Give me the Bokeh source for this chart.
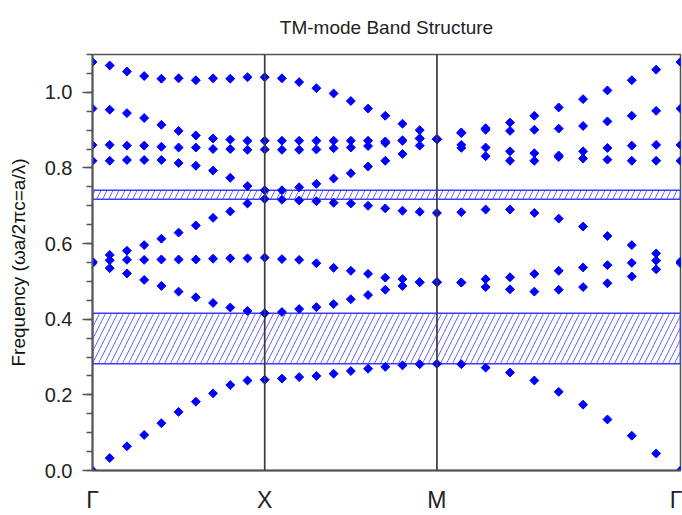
import numpy as np
from bokeh.plotting import figure
from bokeh.models import (Range1d, SingleIntervalTicker, FixedTicker, NumeralTickFormatter,
                          Span, Title)
from bokeh.embed import file_html
from bokeh.resources import INLINE

# High-symmetry points of the k-path (Gamma -> X -> M -> Gamma), in units of 2*pi/a
k_nodes = [0.0, 0.5, 1.0, 1.7071]
k_labels = ["Γ", "X", "M", "Γ"]
steps_per_segment = 10

# TM band frequencies (omega a / 2 pi c), 31 k-samples along the path
band1 = [0.000, 0.033, 0.064, 0.094, 0.125, 0.155, 0.182, 0.204, 0.226, 0.238, 0.240,
         0.243, 0.247, 0.250, 0.256, 0.263, 0.269, 0.274, 0.278, 0.281, 0.282,
         0.281, 0.272, 0.259, 0.238, 0.208, 0.174, 0.135, 0.092, 0.045, 0.000]
band2 = [0.548, 0.535, 0.521, 0.504, 0.488, 0.473, 0.458, 0.443, 0.431, 0.422, 0.416,
         0.419, 0.427, 0.432, 0.440, 0.453, 0.464, 0.478, 0.488, 0.498, 0.498,
         0.497, 0.485, 0.479, 0.473, 0.478, 0.485, 0.495, 0.513, 0.532, 0.548]
band3 = [0.552, 0.556, 0.557, 0.557, 0.558, 0.558, 0.558, 0.560, 0.561, 0.561, 0.563,
         0.559, 0.557, 0.548, 0.536, 0.528, 0.520, 0.510, 0.506, 0.498, 0.498,
         0.497, 0.506, 0.511, 0.520, 0.528, 0.537, 0.543, 0.549, 0.555, 0.552]
band4 = [0.552, 0.570, 0.581, 0.596, 0.613, 0.629, 0.648, 0.668, 0.685, 0.706, 0.718,
         0.716, 0.714, 0.712, 0.708, 0.706, 0.700, 0.693, 0.687, 0.684, 0.681,
         0.683, 0.690, 0.690, 0.681, 0.666, 0.645, 0.620, 0.596, 0.574, 0.552]
band5 = [0.819, 0.819, 0.821, 0.821, 0.821, 0.813, 0.806, 0.793, 0.774, 0.752, 0.741,
         0.741, 0.749, 0.758, 0.772, 0.786, 0.804, 0.819, 0.837, 0.859, 0.876,
         0.853, 0.831, 0.819, 0.819, 0.829, 0.825, 0.822, 0.819, 0.819, 0.819]
band6 = [0.861, 0.861, 0.859, 0.859, 0.856, 0.854, 0.854, 0.850, 0.850, 0.848, 0.849,
         0.848, 0.848, 0.849, 0.852, 0.854, 0.858, 0.866, 0.872, 0.878, 0.876,
         0.861, 0.854, 0.844, 0.839, 0.833, 0.844, 0.853, 0.859, 0.861, 0.861]
band7 = [0.957, 0.954, 0.945, 0.932, 0.914, 0.898, 0.886, 0.878, 0.875, 0.872, 0.872,
         0.872, 0.872, 0.872, 0.872, 0.872, 0.872, 0.870, 0.873, 0.878, 0.876,
         0.892, 0.901, 0.898, 0.901, 0.904, 0.911, 0.923, 0.938, 0.951, 0.957]
band8 = [1.080, 1.071, 1.055, 1.043, 1.036, 1.037, 1.032, 1.037, 1.036, 1.040, 1.040,
         1.037, 1.027, 1.011, 0.997, 0.977, 0.957, 0.938, 0.917, 0.900, 0.876,
         0.894, 0.905, 0.920, 0.938, 0.960, 0.982, 1.005, 1.032, 1.060, 1.080]
bands = [band1, band2, band3, band4, band5, band6, band7, band8]

# Photonic band gaps (lower and upper edges)
gap_bottom = [0.282, 0.717]
gap_top = [0.416, 0.741]

# Sample points along the path: 10 steps per segment, shared nodes counted once
k = [k_nodes[0]]
for a, b in zip(k_nodes[:-1], k_nodes[1:]):
    k.extend(np.linspace(a, b, steps_per_segment + 1)[1:].tolist())

p = figure(width=682, height=515,
           x_range=Range1d(k_nodes[0], k_nodes[-1]), y_range=Range1d(0, 1.10),
           output_backend="svg", toolbar_location=None)
p.min_border_left = 92
p.min_border_right = 2
p.min_border_top = 54
p.min_border_bottom = 44
p.background_fill_color = "white"
p.border_fill_color = "white"

# chart title, top-aligned in a tall title band so it sits well above the frame
p.add_layout(Title(text="TM-mode Band Structure", align="center", vertical_align="top",
                   text_font="Liberation Sans", text_font_size="19px",
                   text_font_style="normal", text_color="#222222", standoff=29), "above")

p.grid.visible = False
p.outline_line_color = "#555555"
p.outline_line_width = 1.5

# band gaps: hatched strips across the whole path
p.quad(left=k_nodes[0], right=k_nodes[-1], bottom=gap_bottom, top=gap_top,
       fill_alpha=0, hatch_pattern="/", hatch_color="#6a6aff", hatch_scale=12,
       hatch_weight=1, line_color="#3c3cff", line_width=1.5)

# vertical separators at the interior symmetry points
for xk in k_nodes[1:-1]:
    p.add_layout(Span(location=xk, dimension="height", line_color="#3a3a3a", line_width=1.7))

# band points drawn as 45-degree rotated squares
for band in bands:
    p.scatter(k, band, marker="square", angle=np.pi / 4, size=6.3, color="#0000ff")

# y axis
yax = p.yaxis[0]
yax.ticker = SingleIntervalTicker(interval=0.2, num_minor_ticks=4)
yax.formatter = NumeralTickFormatter(format="0.0")
yax.axis_label = "Frequency (ωa/2πc=a/λ)"
yax.axis_label_text_font = "Liberation Sans"
yax.axis_label_text_font_size = "19px"
yax.axis_label_text_font_style = "normal"
yax.axis_label_text_color = "#111111"
yax.axis_label_standoff = 13
yax.major_label_text_font = "Liberation Sans"
yax.major_label_text_font_size = "20px"
yax.major_label_text_color = "#222222"
yax.major_label_standoff = 10
yax.major_tick_out = 10
yax.major_tick_in = 0
yax.minor_tick_out = 6
yax.minor_tick_in = 0
yax.axis_line_width = 2
yax.axis_line_color = "#555555"
yax.major_tick_line_color = "#555555"
yax.minor_tick_line_color = "#555555"
yax.major_tick_line_width = 1.5
yax.minor_tick_line_width = 1.5

# x axis: symmetry point labels
xax = p.below[0]
xax.ticker = FixedTicker(ticks=k_nodes)
xax.major_label_overrides = {kv: lab for kv, lab in zip(k_nodes, k_labels)}
xax.major_label_text_font = "Liberation Sans"
xax.major_label_text_font_size = "23px"
xax.major_label_text_color = "#222222"
xax.major_label_standoff = 16
xax.major_tick_out = 0
xax.major_tick_in = 0
xax.minor_tick_out = 0
xax.minor_tick_in = 0
xax.axis_line_width = 2
xax.axis_line_color = "#555555"

open("out.html", "w").write(file_html(p, INLINE))
